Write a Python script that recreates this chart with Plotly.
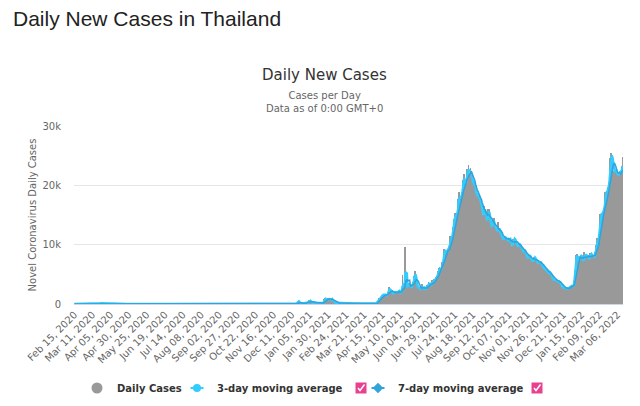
import pandas as pd
import plotly.graph_objects as go

START_DATE = "2020-02-15"

cases_2020_02 = [0,0,0,1,0,0,0,0,0,2,0,3,0,1,2]
cases_2020_03 = [1,1,0,1,4,1,2,7,0,3,6,11,5,7,32,33,30,35,60,50,89,188,122,106,107,111,91,109,143,136,127]
cases_2020_04 = [120,104,103,89,102,51,38,111,54,50,45,33,28,34,30,29,28,33,32,27,19,15,13,15,53,15,9,7,7,6]
cases_2020_05 = [6,6,18,3,1,1,3,0,13,4,1,0,3,2,3,6,3,0,0,3,0,0,3,1,3,1,2,3,11,1,0]
cases_2020_06 = [1,2,0,3,2,0,0,3,2,1,1,0,0,1,0,3,0,1,0,1,0,5,0,3,1,1,7,0,0,1]
cases_2020_07 = [0,1,0,2,6,0,0,2,0,3,1,4,0,3,0,2,0,2,0,1,0,11,0,2,0,1,0,0,5,0,1]
cases_2020_08 = [0,3,0,1,0,0,2,1,0,0,0,4,0,3,1,0,0,0,0,0,0,1,3,0,4,6,6,0,0,2,8]
cases_2020_09 = [4,3,0,1,0,6,0,3,5,0,1,0,4,0,1,0,0,6,0,1,0,0,4,3,6,0,1,2,4,0]
cases_2020_10 = [5,3,0,3,0,4,0,0,0,2,4,0,7,4,4,0,1,0,5,0,2,0,0,0,0,4,4,6,4,0,2]
cases_2020_11 = [2,5,0,9,5,0,3,7,1,0,8,3,5,0,5,0,5,0,5,1,10,5,12,17,1,3,19,19,4,14]
cases_2020_12 = [11,21,11,3,1,16,3,3,10,12,15,14,10,1,5,10,25,17,548,382,427,46,35,50,110,64,121,144,155,250,279]
cases_2021_01 = [212,216,315,745,527,365,305,178,212,249,339,250,194,162,188,143,198,216,171,110,188,198,135,198,914,959,819,804,802,811,829]
cases_2021_02 = [835,572,856,829,843,369,290,228,258,174,202,131,157,177,187,143,127,197,121,113,89,128,75,61,91,67,96,130]
cases_2021_03 = [87,72,53,74,65,67,69,71,62,90,64,56,68,104,120,84,68,96,78,99,70,106,96,109,97,102,94,48,44,40,26]
cases_2021_04 = [26,21,20,22,84,34,250,405,559,789,967,985,965,1335,1543,1582,1547,1767,1390,1443,1458,1470,2070,2839,2438,2048,2179,2012,1871,1583]
cases_2021_05 = [1891,2041,2101,1763,2112,1911,2044,2419,2101,1630,1919,1983,4887,2256,3095,3384,9635,2438,3394,3052,2636,3481,3382,2713,2671,3323,3226,3759,4801,5485,4700]
cases_2021_06 = [3440,2742,2807,2938,2419,2671,2419,2662,3440,2290,2613,2643,2862,2097,3195,3129,3174,3667,3309,3281,3175,3174,4108,3644,4161,3995,3867,4586,4624,4617]
cases_2021_07 = [5533,6087,6230,5916,5435,6519,7058,6519,9276,9326,8656,8685,8685,9317,9186,9692,10082,11397,10928,11305,12000,13002,14260,15335,14260,15376,14150,16533,17669,18912,17345]
cases_2021_08 = [18027,17970,18901,20200,20920,21838,19983,19843,21038,22782,21882,23418,22086,21775,23001,21640,20515,20128,19851,20571,19603,19014,17491,18702,18200,18300,17800,17500,16800,16474,14802]
cases_2021_09 = [14956,15200,16536,15942,14035,13988,14176,16092,14555,15942,14029,12984,12539,14148,13616,14418,12709,13033,12910,11919,11984,13822,11702,12697,12100,11800,11000,10905,11014,11044]
cases_2021_10 = [11256,11311,10920,10454,11099,10624,11134,10827,10875,9801,9429,10314,11039,10817,11050,10638,10111,9526,9753,10164,10150,9860,9750,9414,8900,8766,9106,9160,8745,8452,7980]
cases_2021_11 = [7574,7706,8461,8167,8081,7347,7295,7183,7057,7989,7890,7586,7453,6904,7050,6882,7155,7123,6941,7079,6657,6424,6061,5903,5734,5813,5604,5726,5295,4942]
cases_2021_12 = [5429,5158,5230,4803,4875,4012,4177,4013,4154,4163,3874,3882,3552,3919,3873,3525,3510,2943,2762,2826,2804,2637,2614,2575,2649,2682,2437,2574,2864,3016,3011]
cases_2022_01 = [3112,3081,2927,3091,3899,5775,7526,8263,8511,7133,7142,7681,8167,8158,8077,7929,6929,7016,8793,8112,8129,8330,7990,7748,7587,7681,8618,8153,8470,8112,7872]
cases_2022_02 = [8078,7932,8793,9909,10490,11164,10355,11151,14005,15242,14909,15242,15500,15500,16100,17000,18800,18600,19100,19300,19700,20300,22600,24600,25500,25000,23400,22500]
cases_2022_03 = [22100,22700,22600,22400,21400,21900,21800,22200,22400,22100,21700,23300,24800]

daily_cases = (cases_2020_02 + cases_2020_03 + cases_2020_04 + cases_2020_05 + cases_2020_06
               + cases_2020_07 + cases_2020_08 + cases_2020_09 + cases_2020_10 + cases_2020_11
               + cases_2020_12 + cases_2021_01 + cases_2021_02 + cases_2021_03 + cases_2021_04
               + cases_2021_05 + cases_2021_06 + cases_2021_07 + cases_2021_08 + cases_2021_09
               + cases_2021_10 + cases_2021_11 + cases_2021_12 + cases_2022_01 + cases_2022_02
               + cases_2022_03)

y_tick_values = [0, 10000, 20000, 30000]
y_tick_labels = ["0", "10k", "20k", "30k"]

dates = pd.date_range(START_DATE, periods=len(daily_cases), freq="D")
series = pd.Series(daily_cases, index=dates)
ma3 = series.rolling(3, min_periods=1).mean()
ma7 = series.rolling(7, min_periods=1).mean()
tick_dates = pd.date_range(START_DATE, dates[-1], freq="25D")

# the page body adds an 8px offset; work in screen pixels and shift
OFF = 8
W, H = 640 - OFF, 406 - OFF
PL, PR, PT, PB = 74, 623, 126, 304          # plot area in screen pixels
L, R, T, B = PL - OFF, W - (PR - OFF), PT - OFF, H - (PB - OFF)
PW, PH = PR - PL, PB - PT


def px_x(px):
    return (px - PL) / PW


def px_y(py):
    return (PB - py) / PH


def cx(px):
    return (px - OFF) / W


def cy(py):
    return 1 - (py - OFF) / H


FONT = "DejaVu Sans"
GRAY_BAR = "#999999"
C3 = "#33CCFF"
C7 = "#2FA3DA"
LEG_Y = 388

fig = go.Figure()
fig.add_trace(go.Bar(x=dates, y=daily_cases, marker=dict(color=GRAY_BAR, line=dict(width=0)),
                     name="Daily Cases", showlegend=False, legendgroup="d"))
fig.add_trace(go.Scatter(x=dates, y=ma3, mode="lines", line=dict(color=C3, width=2.5),
                         name="3-day moving average", showlegend=False, legendgroup="m3"))
fig.add_trace(go.Scatter(x=dates, y=ma7, mode="lines", line=dict(color=C7, width=1.5),
                         name="7-day moving average", showlegend=False, legendgroup="m7"))
# legend entries
fig.add_trace(go.Scatter(x=[None], y=[None], mode="markers", marker=dict(color=GRAY_BAR, size=11),
                         name="Daily Cases", legend="legend", legendgroup="d"))
fig.add_trace(go.Scatter(x=[None], y=[None], mode="markers",
                         marker=dict(color=C3, size=8), name="3-day moving average",
                         legend="legend2", legendgroup="m3"))
fig.add_trace(go.Scatter(x=[None], y=[None], mode="markers",
                         marker=dict(color=C7, size=8, symbol="diamond"), name="7-day moving average",
                         legend="legend3", legendgroup="m7"))

LEG_TEXT_X = (117, 217, 398)   # where each legend text starts (screen px)

legend_font = dict(family=FONT, size=10, color="#333333", weight="bold")
leg_common = dict(orientation="h", yanchor="middle", xanchor="left", font=legend_font,
                  bgcolor="rgba(0,0,0,0)", itemwidth=30, xref="container", yref="container",
                  borderwidth=0)
fig.update_layout(
    legend=dict(x=cx(LEG_TEXT_X[0] - 40), y=cy(LEG_Y), **leg_common),
    legend2=dict(x=cx(LEG_TEXT_X[1] - 40), y=cy(LEG_Y), **leg_common),
    legend3=dict(x=cx(LEG_TEXT_X[2] - 40), y=cy(LEG_Y), **leg_common),
)

shapes = []
annotations = []
# short line segments through the legend markers
for (tx, col) in ((LEG_TEXT_X[1], C3), (LEG_TEXT_X[2], C7)):
    mx = tx - 20
    shapes.append(dict(type="line", xref="paper", yref="paper",
                       x0=px_x(mx - 6.5), x1=px_x(mx + 6.5), y0=px_y(LEG_Y), y1=px_y(LEG_Y),
                       line=dict(color=col, width=2)))
# pink checkboxes
for bx in (361, 537):
    shapes.append(dict(type="rect", xref="paper", yref="paper",
                       x0=px_x(bx - 5.5), x1=px_x(bx + 5.5), y0=px_y(LEG_Y + 5.5), y1=px_y(LEG_Y - 5.5),
                       fillcolor="#E8418F", line=dict(width=0)))
    shapes.append(dict(type="path", xref="paper", yref="paper",
                       path=f"M {px_x(bx-3)} {px_y(LEG_Y)} L {px_x(bx-1)} {px_y(LEG_Y+2.5)} "
                            f"L {px_x(bx+3.5)} {px_y(LEG_Y-3.5)}",
                       line=dict(color="white", width=1.5)))

annotations.append(dict(text="Daily New Cases", xref="paper", yref="paper", x=px_x(324), y=px_y(75),
                        xanchor="center", yanchor="middle", showarrow=False,
                        font=dict(family=FONT, size=15, color="#333333")))
annotations.append(dict(text="Cases per Day<br>Data as of 0:00 GMT+0", xref="paper", yref="paper",
                        x=px_x(324), y=px_y(101.5), xanchor="center", yanchor="middle", showarrow=False,
                        font=dict(family=FONT, size=10, color="#666666")))

fig.update_layout(
    width=W, height=H,
    margin=dict(l=L, r=R, t=T, b=B, pad=0),
    paper_bgcolor="white", plot_bgcolor="white",
    bargap=0,
    title=dict(text="Daily New Cases in Thailand", x=cx(13), xref="container", xanchor="left",
               y=cy(19), yref="container", yanchor="middle", pad=dict(l=0, r=0, t=0, b=0),
               font=dict(family="Liberation Sans", size=21, color="#222222")),
    shapes=shapes, annotations=annotations,
    xaxis=dict(type="date", range=[dates[0] - pd.Timedelta(hours=12), dates[-1] + pd.Timedelta(hours=12)],
               tickmode="array", tickvals=tick_dates, tickformat="%b %d, %Y", tickangle=-45,
               tickfont=dict(family=FONT, size=10, color="#666666"), showgrid=False,
               showline=True, linecolor="#ccd6eb", linewidth=1, ticks="", zeroline=False,
               automargin=False),
    yaxis=dict(range=[0, 30000], tickmode="array", tickvals=y_tick_values, ticktext=y_tick_labels,
               tickfont=dict(family=FONT, size=10, color="#666666"), gridcolor="#e6e6e6",
               gridwidth=1, zeroline=False, showline=False, ticks="", ticklen=2,
               ticklabelstandoff=12, automargin=False,
               title=dict(text="Novel Coronavirus Daily Cases", standoff=3,
                          font=dict(family=FONT, size=10, color="#666666"))),
    hovermode=False,
)

fig.write_html("out.html")
